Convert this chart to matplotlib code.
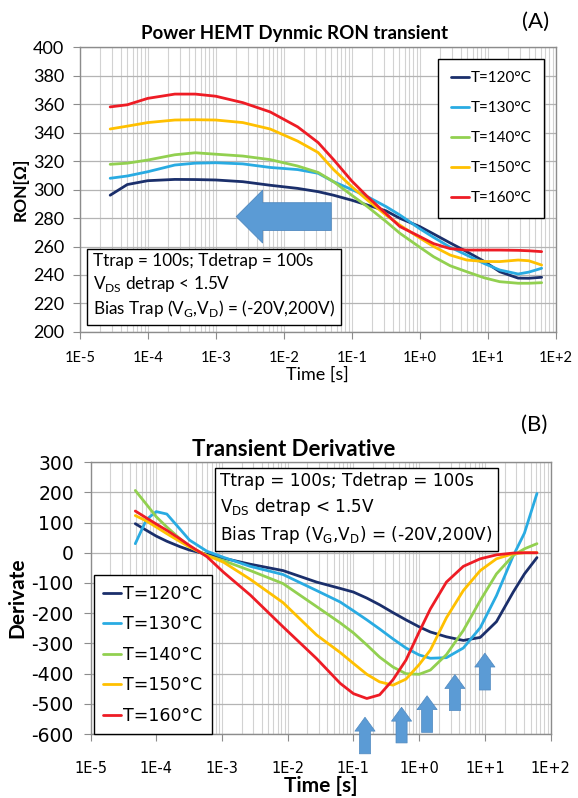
import matplotlib
matplotlib.use("Agg")
import matplotlib.pyplot as plt
from matplotlib.ticker import FixedLocator, FixedFormatter, LogLocator, NullFormatter, MultipleLocator

plt.rcParams["font.family"] = ["Lato", "DejaVu Sans"]
plt.rcParams["axes.unicode_minus"] = False

# ---- (A) RON transient ----
t_a = [2.8e-5, 5.0e-5, 1.0e-4, 2.5e-4, 5.0e-4, 1.0e-3, 2.5e-3, 6.3e-3, 1.6e-2, 3.2e-2,
       5.4e-2, 0.1, 0.17, 0.32, 0.51, 1.0, 1.6, 2.8, 4.9, 8.9, 15, 28, 40, 62]
ron_120 = [296, 303.5, 306.2, 307.1, 307, 306.7, 305.5, 303, 300.8, 298.5, 296, 292.5,
           289.1, 285, 279.8, 274, 268.8, 262.5, 256.4, 249.5, 242.3, 237.8, 237.7, 238.4]
ron_130 = [307.9, 309.5, 312.5, 317.2, 318.5, 318.8, 318, 315.5, 314, 311.4, 305.5, 300,
           295, 288, 282.1, 272.5, 266.4, 259.5, 254, 248, 243.5, 240.7, 242, 244.7]
ron_140 = [317.7, 318.5, 320.7, 324.4, 325.8, 324.8, 323.5, 321, 316.5, 312, 305.5, 296,
           288, 277.5, 269.3, 259.5, 252.8, 246.5, 242.3, 238, 235.3, 234.2, 234.2, 234.6]
ron_150 = [342.5, 344.5, 347, 348.8, 349, 348.8, 347, 342.5, 334, 326, 314, 302,
           292.6, 282, 275, 266, 260, 254, 250.5, 249.5, 249.4, 250.5, 250, 247]
ron_160 = [358, 359.5, 364, 367, 367, 365.5, 361, 354.5, 344, 333, 321, 306,
           295, 283, 274, 267, 262, 258.5, 257.5, 257.5, 257.5, 257.3, 257, 256.4]

# ---- (B) transient derivative ----
t_b = [4.8e-5, 7.1e-5, 1.0e-4, 1.45e-4, 2.3e-4, 3.2e-4, 5.9e-4, 1.05e-3, 2.7e-3, 8.5e-3,
       2.75e-2, 6.3e-2, 0.1, 0.16, 0.25, 0.4, 0.63, 1.0, 1.48, 2.6, 4.7, 8.5, 15, 27, 40, 62]
der_120 = [96, 74, 55, 38, 20, 9, -5, -18, -38, -59, -97, -118, -130, -150, -172, -198,
           -222, -245, -262, -278, -290, -280, -228, -130, -70, -16]
der_130 = [30, 110, 136, 128, 78, 42, 5, -15, -45, -72, -125, -163, -192, -222, -252, -285,
           -315, -338, -349, -347, -315, -248, -142, -10, 65, 196]
der_140 = [206, 160, 119, 85, 46, 20, -9, -26, -59, -102, -178, -232, -265, -305, -345, -378,
           -400, -402, -388, -337, -257, -158, -70, -9, 13, 30]
der_150 = [123, 105, 85, 63, 37, 19, -9, -31, -88, -165, -272, -330, -366, -402, -427, -438,
           -418, -370, -322, -215, -125, -59, -20, -3, 0, 0]
der_160 = [138, 115, 95, 74, 46, 24, -13, -64, -140, -245, -350, -432, -466, -482, -470, -420,
           -355, -262, -186, -97, -45, -20, -7, -1, 0, 0]

labels = ["T=120°C", "T=130°C", "T=140°C", "T=150°C", "T=160°C"]
colors = ["#1b2f6b", "#29abe2", "#92d050", "#ffc000", "#ee1c25"]
decade_labels = ["1E-5", "1E-4", "1E-3", "1E-2", "1E-1", "1E+0", "1E+1", "1E+2"]
decades = [1e-5, 1e-4, 1e-3, 1e-2, 1e-1, 1e0, 1e1, 1e2]

# arrows marking the minima in (B): (time, tip value, tail value)
arrows_b = [(0.15, -544, -665), (0.54, -511, -629), (1.32, -473, -594),
            (3.5, -403, -522), (10.0, -332, -454)]

note = ("Ttrap = 100s; Tdetrap = 100s\n"
        r"V$_{\mathregular{DS}}$ detrap < 1.5V" "\n"
        r"Bias Trap (V$_{\mathregular{G}}$,V$_{\mathregular{D}}$) = (-20V,200V)")

arrow_blue = "#5b9bd5"
wide = ["DejaVu Sans"]


def style_axes(ax, fs_x, fs_y, xpad, ypad, fam=None):
    ax.set_xscale("log")
    ax.set_xlim(1e-5, 1e2)
    ax.xaxis.set_major_locator(FixedLocator(decades))
    ax.xaxis.set_major_formatter(FixedFormatter(decade_labels))
    ax.xaxis.set_minor_locator(LogLocator(base=10, subs=range(2, 10), numticks=20))
    ax.xaxis.set_minor_formatter(NullFormatter())
    ax.grid(True, which="major", axis="y", color="#b4b4b4", lw=0.9)
    ax.grid(True, which="both", axis="x", color="#d2d2d2", lw=0.8)
    ax.set_axisbelow(True)
    for s in ax.spines.values():
        s.set_color("#8c8c8c")
        s.set_linewidth(1.0)
    ax.tick_params(axis="both", which="major", direction="out", length=5, color="#8c8c8c")
    ax.tick_params(axis="x", which="major", pad=xpad)
    ax.tick_params(axis="y", which="major", pad=ypad)
    ax.tick_params(axis="x", which="minor", length=0)
    for lab in ax.get_xticklabels():
        lab.set_fontsize(fs_x)
        if fam:
            lab.set_family(fam)
    for lab in ax.get_yticklabels():
        lab.set_fontsize(fs_y)
        if fam:
            lab.set_family(fam)


fig = plt.figure(figsize=(5.78, 7.98), dpi=100)

# ---------------- (A) ----------------
ax1 = fig.add_axes([0.138, 0.584, 0.8235, 0.357])
for y, lab, c in zip([ron_120, ron_130, ron_140, ron_150, ron_160], labels, colors):
    ax1.plot(t_a, y, color=c, lw=2.0, label=lab, solid_capstyle="round")
ax1.set_ylim(200, 400)
ax1.yaxis.set_major_locator(MultipleLocator(20))
style_axes(ax1, 10.5, 13, 9, 6)
ax1.set_xlabel("Time [s]", fontsize=13, labelpad=1)
ax1.set_ylabel("RON[Ω]", fontsize=12.5, fontweight="bold", labelpad=3)

leg1 = ax1.legend(loc="upper right", bbox_to_anchor=(0.992, 0.985), fontsize=11,
                  handlelength=1.2, handletextpad=0.15, labelspacing=1.05,
                  borderpad=0.8, fancybox=False, framealpha=1, edgecolor="black")
leg1.get_frame().set_linewidth(1.0)

ax1.text(0.027, 0.045, note, transform=ax1.transAxes, fontsize=12.3, va="bottom", ha="left",
         linespacing=1.28,
         bbox=dict(boxstyle="square,pad=0.35", fc="white", ec="black", lw=1.0))

ax1.annotate("", xy=(2.0e-3, 281), xytext=(5.0e-2, 281),
             arrowprops=dict(arrowstyle="simple,head_width=1.9,head_length=0.95,tail_width=1.0",
                             mutation_scale=20, fc=arrow_blue, ec="#4f88bf", lw=0.6,
                             shrinkA=0, shrinkB=0))

fig.text(0.51, 0.958, "Power HEMT Dynmic RON transient", ha="center", va="center",
         fontsize=13.5, fontweight="bold")
fig.text(0.926, 0.973, "(A)", ha="center", va="center", fontsize=16)

# ---------------- (B) ----------------
ax2 = fig.add_axes([0.1566, 0.080, 0.796, 0.341])
for y, lab, c in zip([der_120, der_130, der_140, der_150, der_160], labels, colors):
    ax2.plot(t_b, y, color=c, lw=2.0, label=lab, solid_capstyle="round")
ax2.set_ylim(-600, 300)
ax2.yaxis.set_major_locator(MultipleLocator(100))
style_axes(ax2, 10.5, 13.5, 14, 7, wide)
ax2.set_xlabel("Time [s]", fontsize=15, fontweight="bold", labelpad=0)
ax2.set_ylabel("Derivate", fontsize=15, fontweight="bold", labelpad=3)

leg2 = ax2.legend(loc="lower left", bbox_to_anchor=(0.007, 0.0), borderaxespad=0,
                  prop={"family": wide, "size": 12.5},
                  handlelength=1.0, handletextpad=0.15, labelspacing=0.72,
                  borderpad=0.55, fancybox=False, framealpha=1, edgecolor="black")
leg2.get_frame().set_linewidth(1.0)

ax2.text(0.282, 0.965, note, transform=ax2.transAxes, fontsize=12.2, va="top", ha="left",
         linespacing=1.38, family=wide,
         bbox=dict(boxstyle="square,pad=0.3", fc="white", ec="black", lw=1.0))

for xt, y_tip, y_tail in arrows_b:
    ax2.annotate("", xy=(xt, y_tip), xytext=(xt, y_tail), annotation_clip=False,
                 arrowprops=dict(arrowstyle="simple,head_width=1.45,head_length=1.0,tail_width=0.8",
                                 mutation_scale=10, fc=arrow_blue, ec="#4f88bf", lw=0.5,
                                 shrinkA=0, shrinkB=0, clip_on=False))

fig.text(0.508, 0.437, "Transient Derivative", ha="center", va="center",
         fontsize=16, fontweight="bold")
fig.text(0.924, 0.467, "(B)", ha="center", va="center", fontsize=16)

fig.savefig("out.png", dpi=100)
